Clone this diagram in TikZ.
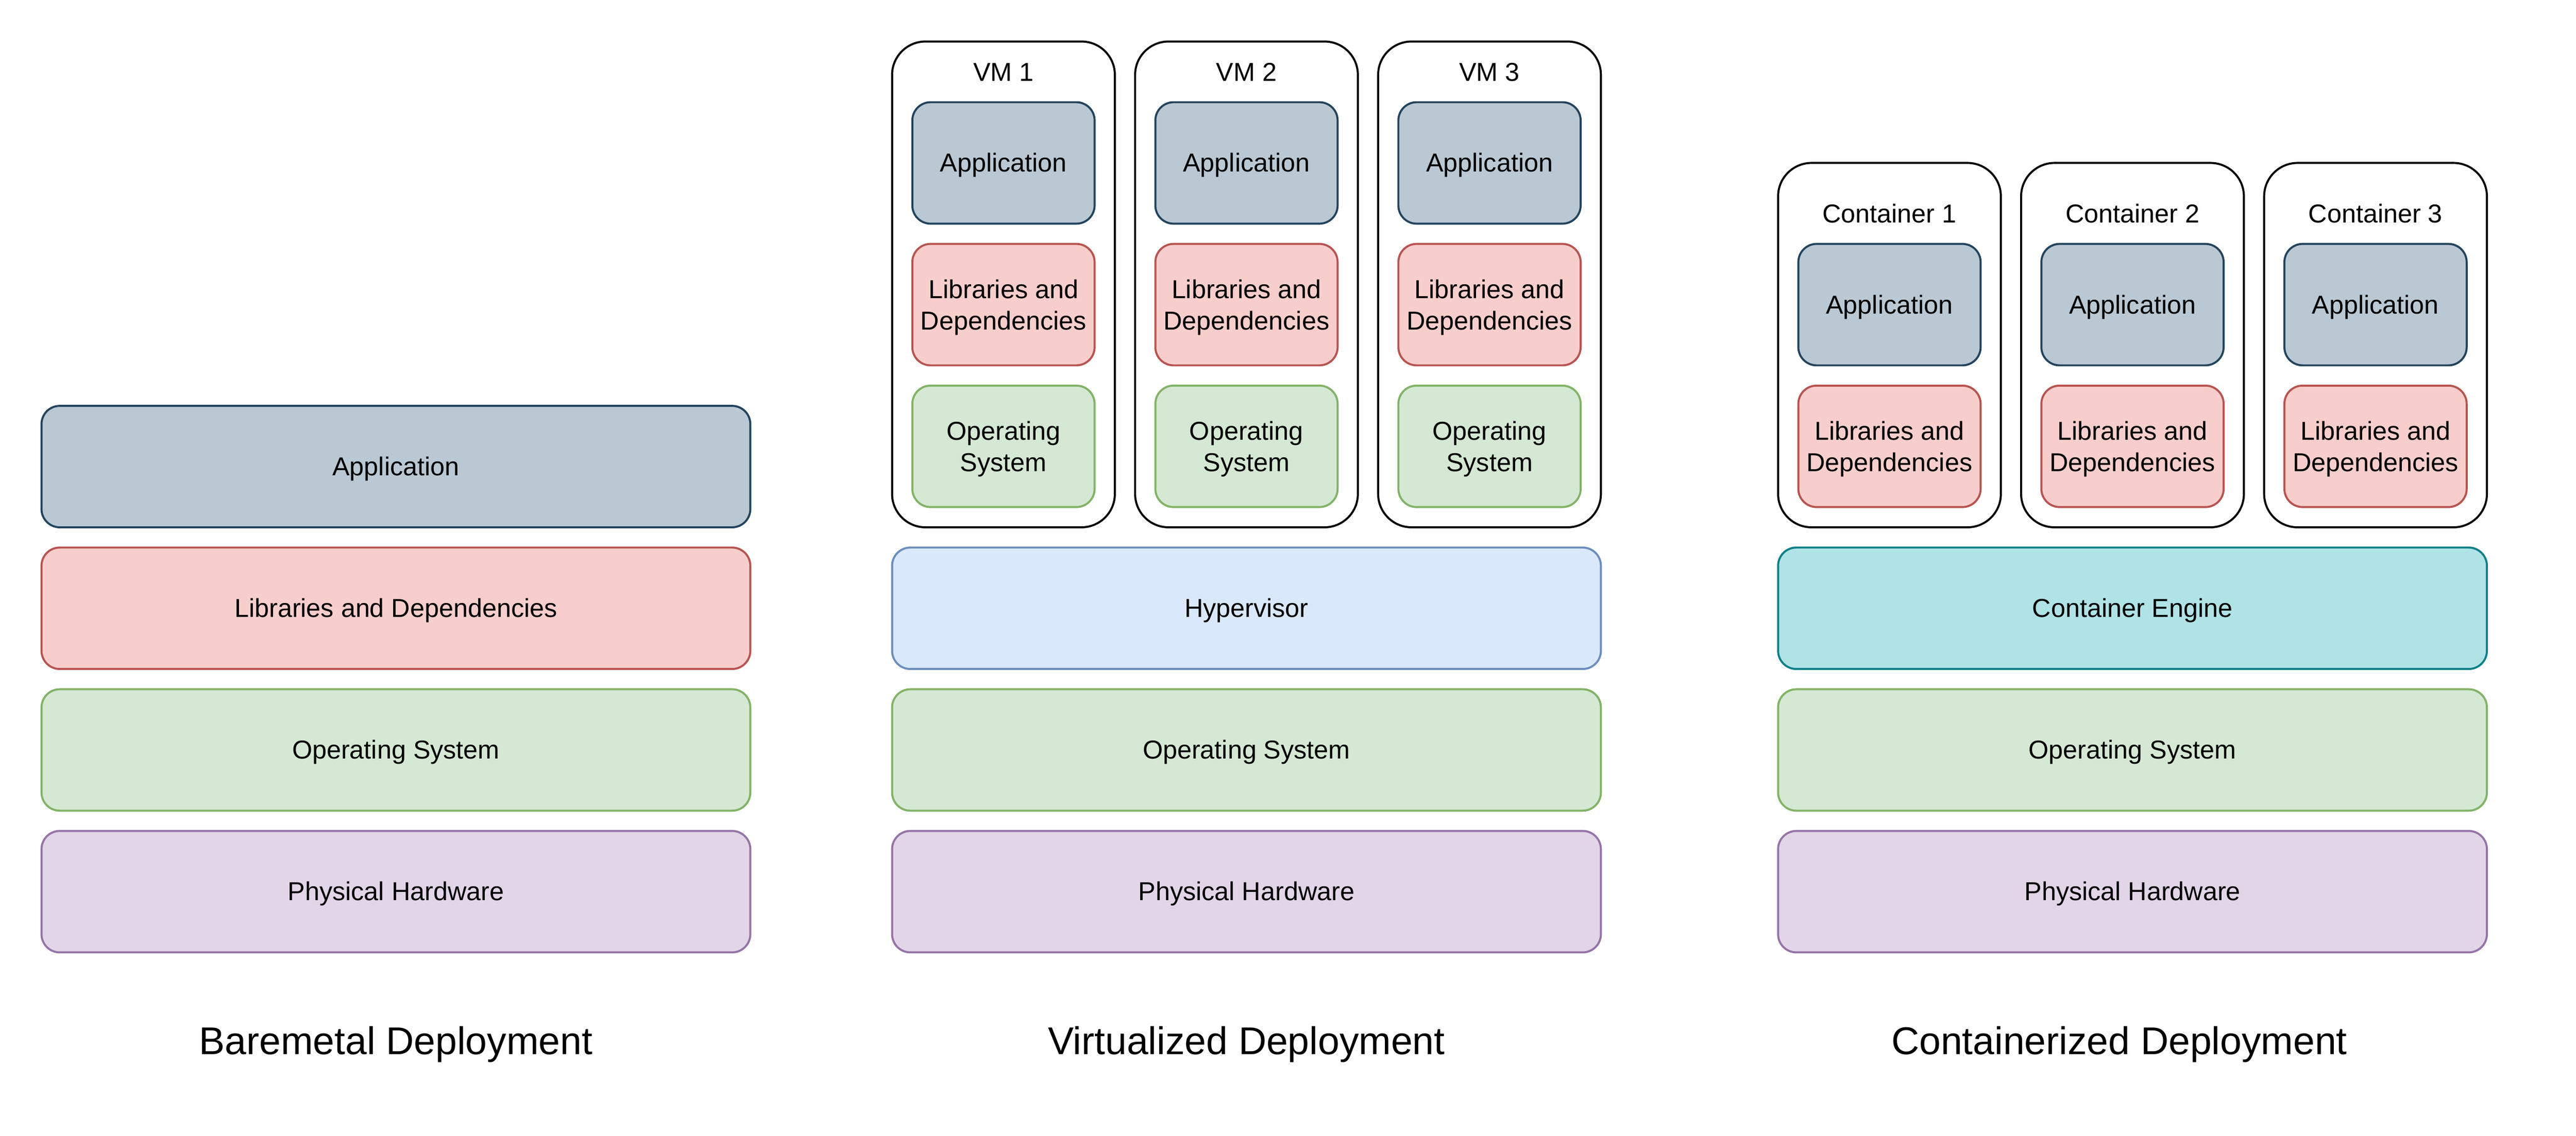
\documentclass[tikz,border=0pt]{standalone}
\usepackage{fontspec}
\setmainfont{Liberation Sans}
\definecolor{appfill}{HTML}{BAC8D3}\definecolor{appline}{HTML}{23445D}
\definecolor{libfill}{HTML}{F8CECC}\definecolor{libline}{HTML}{B85450}
\definecolor{osfill}{HTML}{D5E8D4}\definecolor{osline}{HTML}{82B366}
\definecolor{hwfill}{HTML}{E1D5E7}\definecolor{hwline}{HTML}{9673A6}
\definecolor{hypfill}{HTML}{DAE8FC}\definecolor{hypline}{HTML}{6C8EBF}
\definecolor{engfill}{HTML}{B0E3E6}\definecolor{engline}{HTML}{0E8088}
\newcommand\lblfnt{\fontsize{12.8pt}{15.4pt}\selectfont}
\newcommand\titlefnt{\fontsize{19.1pt}{23pt}\selectfont}
\tikzset{
  layerbase/.style={rectangle, line width=1pt, inner sep=0pt, rounded corners=9pt,
    font=\lblfnt, text height=11.58pt, text depth=2.71pt},
  wide/.style={layerbase, minimum width=350pt, minimum height=60pt},
  small/.style={layerbase, minimum width=90pt, minimum height=60pt},
  vmbox/.style={rectangle, draw=black, fill=white, line width=1pt, rounded corners=16.5pt,
    minimum width=110pt, minimum height=240pt, inner sep=0pt},
  ctrbox/.style={vmbox, minimum height=180pt},
  app/.style={fill=appfill, draw=appline},
  lib/.style={fill=libfill, draw=libline},
  os/.style={fill=osfill, draw=osline},
  hw/.style={fill=hwfill, draw=hwline},
  hyp/.style={fill=hypfill, draw=hypline},
  eng/.style={fill=engfill, draw=engline},
  txt/.style={font=\lblfnt, inner sep=0pt, anchor=base},
  ttl/.style={font=\titlefnt, inner sep=0pt, anchor=base},
}
\begin{document}
\begin{tikzpicture}[x=1pt, y=-1pt]
\useasboundingbox (0,0) rectangle (1272,561);
% Baremetal
\node[wide, app] (bmapp) at (195.5,230.5) {Application};
\node[wide, lib] (bmlib) at (195.5,300.5) {Libraries and Dependencies};
\node[wide, os]  (bmos)  at (195.5,370.5) {Operating System};
\node[wide, hw]  (bmhw)  at (195.5,440.5) {Physical Hardware};
\node[ttl] (bmtitle) at (195.5,520.8) {Baremetal Deployment};
% Virtualized
\foreach \i/\x in {1/495.5,2/615.5,3/735.5}{
  \node[vmbox] (vm\i) at (\x,140.5) {};
  \node[txt] (vm\i label) at (\x,40) {VM \i};
  \node[small, app] (vm\i app) at (\x,80.5) {Application};
  \node[small, lib] (vm\i lib) at (\x,150.5) {};
  \node[txt] (vm\i libA) at ([yshift=3.1pt]vm\i lib.center) {Libraries and};
  \node[txt] (vm\i libB) at ([yshift=-12.4pt]vm\i lib.center) {Dependencies};
  \node[small, os] (vm\i os) at (\x,220.5) {};
  \node[txt] (vm\i osA) at ([yshift=3.1pt]vm\i os.center) {Operating};
  \node[txt] (vm\i osB) at ([yshift=-12.4pt]vm\i os.center) {System};
}
\node[wide, hyp] (vhyp) at (615.5,300.5) {Hypervisor};
\node[wide, os]  (vos)  at (615.5,370.5) {Operating System};
\node[wide, hw]  (vhw)  at (615.5,440.5) {Physical Hardware};
\node[ttl] (vtitle) at (615.5,520.8) {Virtualized Deployment};
% Containerized
\foreach \i/\x in {1/933,2/1053,3/1173}{
  \node[ctrbox] (ct\i) at (\x,170.5) {};
  \node[txt] (ct\i label) at (\x,110) {Container \i};
  \node[small, app] (ct\i app) at (\x,150.5) {Application};
  \node[small, lib] (ct\i lib) at (\x,220.5) {};
  \node[txt] (ct\i libA) at ([yshift=3.1pt]ct\i lib.center) {Libraries and};
  \node[txt] (ct\i libB) at ([yshift=-12.4pt]ct\i lib.center) {Dependencies};
}
\node[wide, eng] (ceng) at (1053,300.5) {Container Engine};
\node[wide, os]  (cos)  at (1053,370.5) {Operating System};
\node[wide, hw]  (chw)  at (1053,440.5) {Physical Hardware};
\node[ttl] (ctitle) at (1046.5,520.8) {Containerized Deployment};
\end{tikzpicture}
\end{document}
